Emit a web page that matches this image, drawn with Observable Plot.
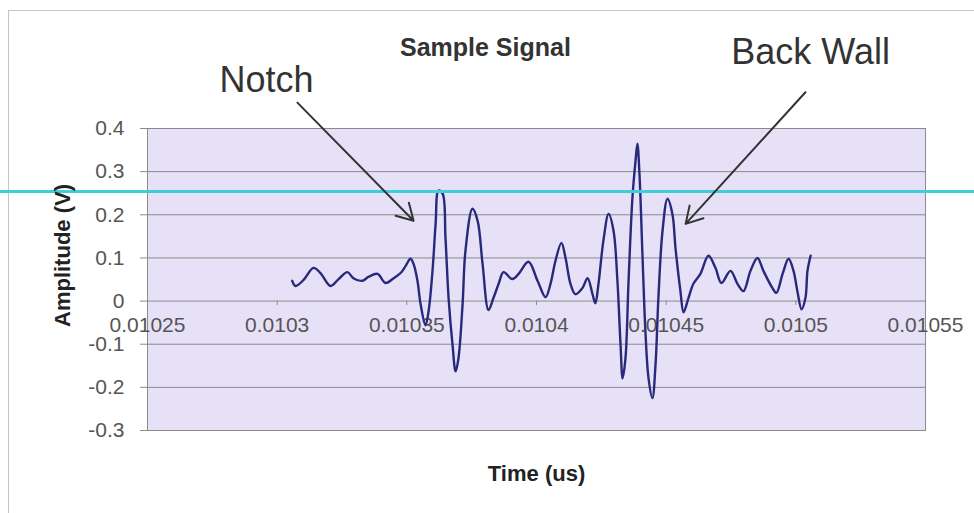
<!DOCTYPE html>
<html><head><meta charset="utf-8">
<script src="https://cdn.jsdelivr.net/npm/d3@7"></script>
<script src="https://cdn.jsdelivr.net/npm/@observablehq/plot@0.6"></script>
<style>
html,body{margin:0;padding:0;background:#fff;overflow:hidden;}
#wrap{position:relative;width:974px;height:513px;overflow:hidden;}
#border{position:absolute;left:8px;top:10px;width:1000px;height:1000px;border:1px solid #c4c4c4;}
#chart{position:absolute;left:0;top:0;}
</style></head><body><div id="wrap"><div id="border"></div><div id="chart"></div></div>
<script>
// Signal samples (time in the axis' units, amplitude in V)
const time = [
  0.0103058,0.0103071,0.0103102,0.0103140,0.0103167,0.0103206,0.0103237,0.0103271,0.0103294,0.0103329,
  0.0103352,0.0103387,0.0103418,0.0103449,0.0103476,0.0103495,0.0103514,0.0103526,0.0103541,0.0103553,
  0.0103572,0.0103584,0.0103599,0.0103611,0.0103622,0.0103638,0.0103649,0.0103661,0.0103676,0.0103688,
  0.0103699,0.0103715,0.0103726,0.0103753,0.0103773,0.0103792,0.0103815,0.0103834,0.0103854,0.0103873,
  0.0103907,0.0103931,0.0103969,0.0104004,0.0104035,0.0104054,0.0104073,0.0104096,0.0104112,0.0104131,
  0.0104150,0.0104177,0.0104197,0.0104216,0.0104227,0.0104239,0.0104258,0.0104278,0.0104297,0.0104312,
  0.0104324,0.0104332,0.0104343,0.0104355,0.0104370,0.0104382,0.0104389,0.0104397,0.0104409,0.0104420,
  0.0104432,0.0104447,0.0104459,0.0104470,0.0104486,0.0104505,0.0104524,0.0104536,0.0104555,0.0104567,
  0.0104586,0.0104605,0.0104632,0.0104663,0.0104690,0.0104713,0.0104748,0.0104775,0.0104798,0.0104825,
  0.0104852,0.0104875,0.0104910,0.0104925,0.0104949,0.0104972,0.0104991,0.0105006,0.0105022,0.0105037,
  0.0105045,0.0105057
];
const amplitude = [
  0.047,0.035,0.049,0.077,0.065,0.035,0.051,0.067,0.053,0.047,
  0.056,0.063,0.042,0.053,0.065,0.081,0.098,0.086,0.047,-0.007,
  -0.056,-0.023,0.070,0.179,0.256,0.249,0.147,0.007,-0.100,-0.163,
  -0.133,-0.007,0.116,0.214,0.186,0.086,-0.021,0.007,0.040,0.067,
  0.051,0.063,0.091,0.047,0.009,0.040,0.093,0.135,0.100,0.040,
  0.016,0.030,0.053,0.016,-0.005,0.040,0.140,0.202,0.163,0.047,
  -0.100,-0.179,-0.133,0.047,0.240,0.326,0.365,0.295,0.100,-0.070,
  -0.179,-0.225,-0.147,0.007,0.163,0.237,0.202,0.123,0.023,-0.026,
  0.007,0.040,0.063,0.105,0.077,0.042,0.070,0.040,0.023,0.070,
  0.100,0.070,0.030,0.019,0.063,0.098,0.070,0.023,-0.019,0.007,
  0.070,0.105
];

const xTicks = [0.01025,0.0103,0.01035,0.0104,0.01045,0.0105,0.01055];
const xTickLabels = ["0.01025","0.0103","0.01035","0.0104","0.01045","0.0105","0.01055"];
const yTicks = [0.4,0.3,0.2,0.1,0,-0.1,-0.2,-0.3];
const yTickLabels = ["0.4","0.3","0.2","0.1","0","-0.1","-0.2","-0.3"];

const titleText = "Sample Signal";
const xLabel = "Time (us)";
const yLabel = "Amplitude (V)";

// Annotations (in data units)
const annotationLabels = ["Notch","Back Wall"];
const annotationX = [0.0102959,0.0105057];
const annotationY = [0.512,0.577];
const arrowX1 = [0.0103078,0.0105037];
const arrowY1 = [0.460,0.484];
const arrowX2 = [0.0103526,0.0104575];
const arrowY2 = [0.186,0.179];
const cyanLevel = 0.254;

const signal = time.map((t,i)=>({t, v: amplitude[i]}));
const notes = annotationLabels.map((label,i)=>({label, x: annotationX[i], y: annotationY[i]}));
const arrows = arrowX1.map((x1,i)=>({x1, y1: arrowY1[i], x2: arrowX2[i], y2: arrowY2[i]}));

const chart = Plot.plot({
  width: 974, height: 513,
  marginTop: 128, marginRight: 49, marginBottom: 83, marginLeft: 147,
  x: {domain: [0.01025, 0.01055], axis: null},
  y: {domain: [-0.3, 0.4], axis: null},
  style: {fontFamily: "'Liberation Sans', Arial, sans-serif", background: "transparent", overflow: "visible"},
  marks: [
    Plot.frame({fill: "#e7e1f7"}),
    Plot.gridY(yTicks, {stroke: "#8a8a8a", strokeOpacity: 1}),
    Plot.axisY(yTicks, {tickSize: 7, tickPadding: 16, tickFormat: d => yTickLabels[yTicks.indexOf(d)], fontSize: 21, stroke: "#8a8a8a", fill: "#555", label: null}),
    Plot.frame({stroke: "#8a8a8a"}),
    Plot.ruleX(xTicks, {x: d => d, y1: 0, y2: -0.01, stroke: "#8a8a8a"}),
    Plot.text(xTicks, {x: d => d, y: 0, dy: 24, text: (d,i) => xTickLabels[i], fontSize: 21, fill: "#555"}),
    Plot.line(signal, {x: "t", y: "v", stroke: "#29297c", strokeWidth: 2.4, curve: "catmull-rom"}),
    Plot.ruleY([cyanLevel], {x1: 0.01019, x2: 0.01057, stroke: "#3ccfd8", strokeWidth: 3}),
    Plot.arrow(arrows, {x1: "x1", y1: "y1", x2: "x2", y2: "y2", stroke: "#333", strokeWidth: 2, headLength: 14}),
    Plot.text(notes, {x: "x", y: "y", text: "label", fontSize: 36, fill: "#333"}),
    Plot.text([titleText], {x: 0.0103803, y: 0.586, fontSize: 25, fontWeight: "bold", fill: "#333"}),
    Plot.text([xLabel], {frameAnchor: "bottom", dy: 50, fontSize: 22, fontWeight: "bold", fill: "#222"}),
    Plot.text([yLabel], {frameAnchor: "left", textAnchor: "middle", dx: -85, dy: -24, rotate: -90, fontSize: 22, fontWeight: "bold", fill: "#222"})
  ]
});
document.getElementById("chart").appendChild(chart);
</script>
</body></html>
